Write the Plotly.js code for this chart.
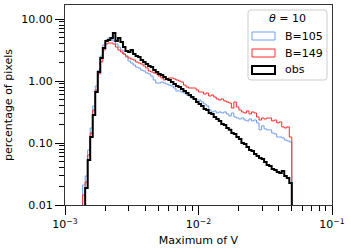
<!DOCTYPE html>
<html>
<head>
<meta charset="utf-8">
<script src="https://cdn.plot.ly/plotly-3.0.1.min.js"></script>
<style>html,body{margin:0;padding:0;background:#fff;}#chart{width:351px;height:249px;}</style>
</head>
<body>
<div id="chart"></div>
<script>
// Histogram binning: 90 log-spaced bins from 1e-3 to 0.05; values below start at bin 7
const binLogMin = -3;
const binLogMax = Math.log10(0.05);
const nBins = 90;
const firstBin = 7;

// percentage of pixels per bin (bins 7..89)
const b105 = [0.0210,0.0294,0.0772,0.175,0.396,0.830,1.50,2.53,3.81,4.58,4.94,4.76,4.42,3.95,3.53,3.16,2.73,2.44,2.10,1.95,
  1.81,1.68,1.62,1.50,1.45,1.35,1.30,1.20,1.04,0.928,0.928,0.963,0.928,0.894,0.862,0.830,0.771,0.690,0.690,0.665,
  0.641,0.595,0.573,0.532,0.513,0.494,0.494,0.459,0.426,0.396,0.341,0.317,0.329,0.305,0.317,0.305,0.317,0.294,0.273,0.305,
  0.263,0.253,0.244,0.253,0.235,0.227,0.244,0.227,0.235,0.211,0.163,0.189,0.169,0.163,0.163,0.145,0.140,0.125,0.125,0.121,
  0.112,0.108,0.104];
const b149 = [0.0145,0.0235,0.0641,0.145,0.341,0.716,1.30,2.03,3.16,3.95,4.10,4.10,3.95,3.53,3.16,2.94,2.73,2.53,2.35,2.26,
  2.18,2.03,1.95,1.88,1.75,1.62,1.45,1.40,1.35,1.30,1.20,1.12,1.04,1.08,1.12,1.12,1.08,1.04,1.00,0.963,
  0.862,0.800,0.771,0.771,0.771,0.716,0.665,0.665,0.617,0.641,0.573,0.595,0.552,0.513,0.494,0.513,0.476,0.459,0.442,0.367,
  0.459,0.381,0.341,0.317,0.305,0.329,0.294,0.317,0.305,0.263,0.235,0.253,0.244,0.253,0.253,0.227,0.235,0.211,0.219,0.182,
  0.175,0.182,0.125];
const obs = [0,0.0188,0.0532,0.125,0.283,0.665,1.40,2.35,3.41,4.42,4.58,4.94,5.95,4.42,4.94,4.26,3.53,3.05,2.94,3.16,
  2.73,2.53,2.44,2.18,2.03,1.88,1.75,1.68,1.50,1.40,1.30,1.25,1.16,1.08,1.04,0.963,0.894,0.830,0.800,0.743,
  0.690,0.641,0.595,0.552,0.513,0.459,0.426,0.396,0.354,0.341,0.305,0.294,0.263,0.244,0.227,0.203,0.196,0.175,0.163,0.145,
  0.140,0.125,0.116,0.100,0.0964,0.0862,0.0772,0.0744,0.0665,0.0617,0.0573,0.0552,0.0494,0.0442,0.0426,0.0381,0.0367,0.0341,0.0329,0.0354,
  0.0294,0.0273,0.0227];

const seriesNames = ['B=105', 'B=149', 'obs'];
const seriesColors = ['#6f9cf0', '#ff2a2a', '#000000'];
const seriesWidths = [1, 1, 2];

const yTickVals = [0.01, 0.1, 1, 10];
const yTickText = ['0.01', '0.10', '1.00', '10.00'];
const xTickVals = [0.001, 0.01, 0.1];
const xTickText = ['10<sup>\u22123</sup>', '10<sup>\u22122</sup>', '10<sup>\u22121</sup>'];

function edge(i) { return Math.pow(10, binLogMin + i * (binLogMax - binLogMin) / nBins); }
const FLOOR = 1e-4;
function stepTrace(vals, name, color, width) {
  const xs = [], ys = [];
  xs.push(edge(firstBin)); ys.push(FLOOR);
  vals.forEach((v, k) => { xs.push(edge(firstBin + k)); ys.push(v > 0 ? v : FLOOR); });
  const last = vals[vals.length - 1];
  xs.push(edge(firstBin + vals.length)); ys.push(last);
  xs.push(edge(firstBin + vals.length)); ys.push(FLOOR);
  return {x: xs, y: ys, type: 'scatter', mode: 'lines', name: name,
    line: {shape: 'hv', color: color, width: width}, showlegend: false, hoverinfo: 'skip'};
}
const allVals = [b105, b149, obs];
const traces = allVals.map((v, k) => stepTrace(v, seriesNames[k], seriesColors[k], seriesWidths[k]));

function minorVals(lo, hi) {
  const out = [];
  for (let d = lo; d < hi; d++) for (let m = 2; m <= 9; m++) out.push(m * Math.pow(10, d));
  return out;
}

const font = {family: 'DejaVu Sans, sans-serif', size: 11, color: '#000'};
const W = 267, H = 200, L = 65, T = 5;
function px(x) { return (x - L) / W; }
function py(y) { return (T + H - y) / H; }

// rounded legend frame (paper coordinates)
function roundedRect(x0, y0, x1, y1, r) {
  const rx = r / W, ry = r / H;
  const X0 = px(x0), X1 = px(x1), Y0 = py(y1), Y1 = py(y0);
  return `M${X0 + rx},${Y0} L${X1 - rx},${Y0} Q${X1},${Y0} ${X1},${Y0 + ry} L${X1},${Y1 - ry} Q${X1},${Y1} ${X1 - rx},${Y1} ` +
         `L${X0 + rx},${Y1} Q${X0},${Y1} ${X0},${Y1 - ry} L${X0},${Y0 + ry} Q${X0},${Y0} ${X0 + rx},${Y0} Z`;
}
const shapes = [{type: 'path', xref: 'paper', yref: 'paper', path: roundedRect(248, 10, 327, 80, 3),
  line: {color: '#cccccc', width: 1}, fillcolor: 'rgba(255,255,255,0.85)', layer: 'above'}];
const annotations = [{xref: 'paper', yref: 'paper', x: px(287), y: py(19), text: '<i>\u03b8</i> = 10', showarrow: false,
  xanchor: 'center', yanchor: 'middle', font: font}];
const legY = [36, 53, 70];
seriesNames.forEach((n, k) => {
  shapes.push({type: 'rect', xref: 'paper', yref: 'paper', x0: px(252), x1: px(275), y0: py(legY[k] + 4), y1: py(legY[k] - 4),
    line: {color: seriesColors[k], width: seriesWidths[k]}, fillcolor: 'rgba(0,0,0,0)', layer: 'above'});
  annotations.push({xref: 'paper', yref: 'paper', x: px(283), y: py(legY[k]), text: n, showarrow: false,
    xanchor: 'left', yanchor: 'middle', font: font});
});

const layout = {
  width: 351, height: 249,
  margin: {l: L, r: 351 - L - W, t: T, b: 249 - T - H},
  paper_bgcolor: '#fff', plot_bgcolor: '#fff',
  font: font,
  showlegend: false,
  xaxis: {type: 'log', range: [-3, -1], tickmode: 'array', tickvals: xTickVals, ticktext: xTickText,
    ticks: 'outside', ticklen: 9, tickwidth: 1, tickcolor: '#000', showgrid: false, zeroline: false,
    showline: true, linecolor: '#333', linewidth: 1, mirror: true,
    minor: {tickmode: 'array', tickvals: minorVals(-3, -1), ticks: 'outside', ticklen: 5, tickwidth: 1, tickcolor: '#000', showgrid: false},
    title: {text: 'Maximum of V', font: font, standoff: 6}, automargin: false},
  yaxis: {type: 'log', range: [-2, 1.226], tickmode: 'array', tickvals: yTickVals, ticktext: yTickText,
    ticks: 'outside', ticklen: 9, tickwidth: 1, tickcolor: '#000', showgrid: false, zeroline: false,
    showline: true, linecolor: '#333', linewidth: 1, mirror: true,
    minor: {tickmode: 'array', tickvals: minorVals(-2, 2), ticks: 'outside', ticklen: 5, tickwidth: 1, tickcolor: '#000', showgrid: false},
    title: {text: 'percentage of pixels', font: font, standoff: 6}, automargin: false},
  shapes: shapes,
  annotations: annotations
};
Plotly.newPlot('chart', traces, layout, {staticPlot: true, displayModeBar: false});
</script>
</body>
</html>
